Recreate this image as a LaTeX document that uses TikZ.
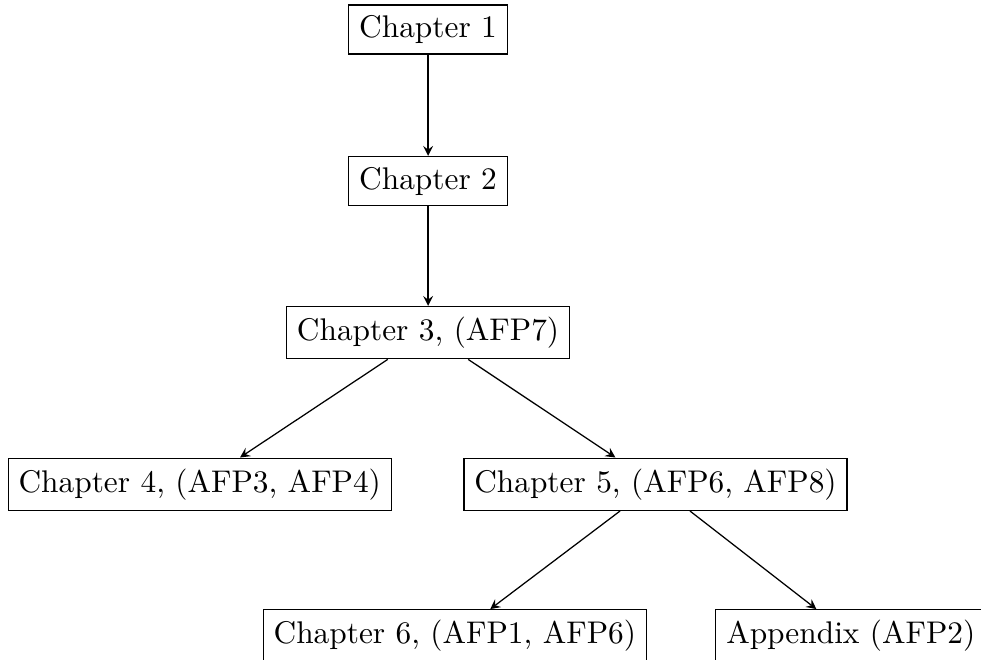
\documentclass[tikz,border=0pt]{standalone}
\usepackage{tikz}
\usetikzlibrary{arrows}
\tikzstyle{chapter_box} = [rectangle, draw]
\tikzstyle{edge_dep} = [-stealth]

\begin{document}
\begin{tikzpicture}
		\useasboundingbox (-4.80,-7.07) rectangle (6.20,0.33);
		\def\lev{1.70}
		\node (C1) at (0, 0) [chapter_box] {Chapter 1};
		\node (C2) at (0, -1*\lev) [chapter_box] {Chapter 2};
		\node (C3) at (0, -2*\lev) [chapter_box] {Chapter 3, (AFP7)};
		\node (C4) at (-2.56, -3*\lev) [chapter_box] {Chapter 4, (AFP3, AFP4)};
		\node (C5) at (2.55, -3*\lev) [chapter_box] {Chapter 5, (AFP6, AFP8)};
		\node (C6) at (0.30, -4*\lev) [chapter_box] {Chapter 6, (AFP1, AFP6)};
		\node (AP) at (4.74, -4*\lev) [chapter_box] {Appendix (AFP2)};
		
		\draw[edge_dep] (C1)--(C2);
		\draw[edge_dep] (C2)--(C3);
		\draw[edge_dep] (C3)--(C4);
		\draw[edge_dep] (C3)--(C5);
		\draw[edge_dep] (C5)--(C6);
		\draw[edge_dep] (C5)--(AP);
		\end{tikzpicture}
\end{document}
